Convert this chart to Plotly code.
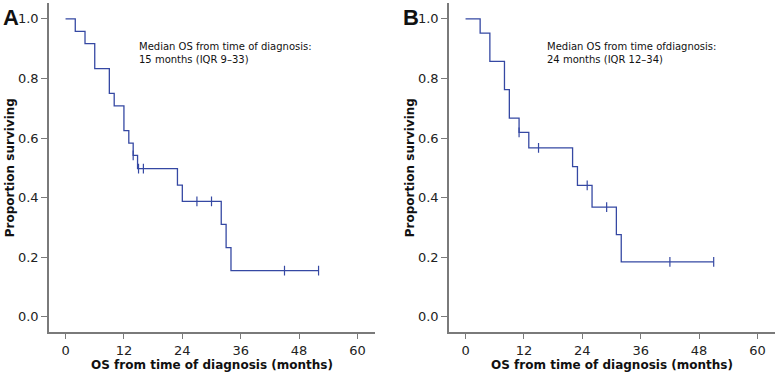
import plotly.graph_objects as go

# Panel A: Kaplan-Meier steps
a_times = [0, 2, 4, 6, 9, 10, 12, 13, 13.9, 14.8, 23, 24, 32, 33, 34, 52]
a_surv = [1.0, 0.958, 0.917, 0.833, 0.750, 0.708, 0.625, 0.583, 0.542, 0.497,
          0.442, 0.387, 0.310, 0.232, 0.155, 0.155]
a_cens_t = [13.9, 15, 16, 27, 30, 45, 52]
a_cens_s = [0.542, 0.497, 0.497, 0.387, 0.387, 0.155, 0.155]

# Panel B
b_times = [0, 3, 5, 8, 9, 11, 13, 22, 23, 26, 31, 32, 51]
b_surv = [1.0, 0.952, 0.857, 0.762, 0.667, 0.619, 0.567, 0.504, 0.441, 0.368,
          0.276, 0.184, 0.184]
b_cens_t = [11, 15, 25, 29, 42, 51]
b_cens_s = [0.619, 0.567, 0.441, 0.368, 0.184, 0.184]

x_ticks = [0, 12, 24, 36, 48, 60]
y_ticks = [0.0, 0.2, 0.4, 0.6, 0.8, 1.0]

a_text = ["Median OS from time of diagnosis:", "15 months (IQR 9\u201333)"]
b_text = ["Median OS from time ofdiagnosis:", "24 months (IQR 12\u201334)"]

W, H = 777, 375
LINE = "#3548a3"
AX = "#7a7a7a"

fig = go.Figure()
for (t, s, ct, cs, xa, ya) in [(a_times, a_surv, a_cens_t, a_cens_s, "x", "y"),
                               (b_times, b_surv, b_cens_t, b_cens_s, "x2", "y2")]:
    fig.add_trace(go.Scatter(x=t, y=s, mode="lines", line=dict(color=LINE, width=1.3, shape="hv"),
                             xaxis=xa, yaxis=ya, showlegend=False, hoverinfo="skip"))
    fig.add_trace(go.Scatter(x=ct, y=cs, mode="markers",
                             marker=dict(symbol="line-ns", size=7, line=dict(color=LINE, width=1.2)),
                             xaxis=xa, yaxis=ya, showlegend=False, hoverinfo="skip"))

font_tick = dict(family="DejaVu Sans", size=13, color="#222")
font_title = dict(family="DejaVu Sans", size=12, color="#111")

ydom = [1 - 332.3 / H, 1 - 3 / H]
xdomA = [49 / W, 375 / W]
xdomB = [449 / W, 775 / W]

def xax(dom, anchor):
    return dict(domain=dom, range=[-3.4, 63.6], tickvals=x_ticks, ticks="outside", ticklen=5,
                tickcolor=AX, showline=True, linecolor=AX, linewidth=1.5, showgrid=False,
                zeroline=False, tickfont=font_tick, anchor=anchor, automargin=False,
                title=dict(text="<b>OS from time of diagnosis (months)</b>", font=font_title, standoff=0))

def yax(anchor):
    return dict(domain=ydom, range=[-0.052, 1.053], tickvals=y_ticks, tickformat=".1f",
                ticks="outside", ticklen=6, tickcolor=AX, showline=True, linecolor=AX, linewidth=1.5,
                showgrid=False, zeroline=False, tickfont=font_tick, anchor=anchor, automargin=False,
                title=dict(text="<b>Proportion surviving</b>", font=font_title, standoff=1))

fig.update_layout(
    width=W, height=H, margin=dict(l=0, r=0, t=0, b=0, pad=0, autoexpand=False),
    paper_bgcolor="white", plot_bgcolor="white", showlegend=False,
    xaxis=xax(xdomA, "y"), yaxis=yax("x"),
    xaxis2=xax(xdomB, "y2"), yaxis2=yax("x2"),
)

ann_font = dict(family="DejaVu Sans", size=10, color="#111")
fig.add_annotation(x=137 / W, y=1 - 39 / H, xref="paper", yref="paper", xanchor="left", yanchor="top",
                   text="<br>".join(a_text), showarrow=False, align="left", font=ann_font)
fig.add_annotation(x=545 / W, y=1 - 39 / H, xref="paper", yref="paper", xanchor="left", yanchor="top",
                   text="<br>".join(b_text), showarrow=False, align="left", font=ann_font)

letter_font = dict(family="Liberation Sans", size=22, color="#111")
fig.add_annotation(x=1 / W, y=1 - 3 / H, xref="paper", yref="paper", xanchor="left", yanchor="top",
                   text="<b>A</b>", showarrow=False, font=letter_font)
fig.add_annotation(x=401 / W, y=1 - 3 / H, xref="paper", yref="paper", xanchor="left", yanchor="top",
                   text="<b>B</b>", showarrow=False, font=letter_font)

fig.write_html("out.html", config={"displayModeBar": False},
               post_script="document.body.style.margin='0';")
